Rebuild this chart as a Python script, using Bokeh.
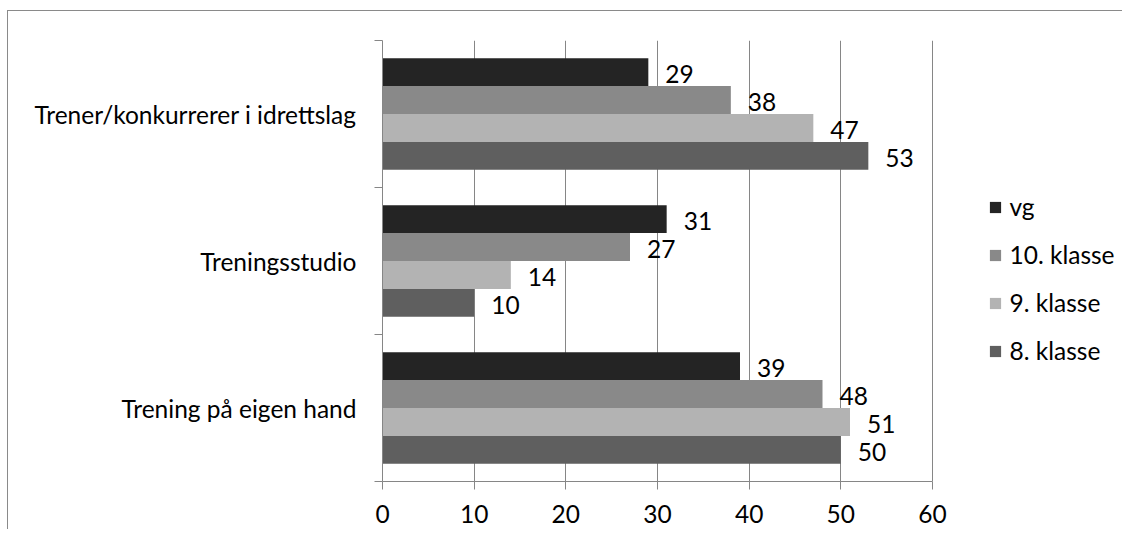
from bokeh.plotting import figure
from bokeh.models import Range1d, FixedTicker, Legend, LegendItem, ColumnDataSource
from bokeh.embed import file_html
from bokeh.resources import INLINE
from bokeh.core.properties import value

# categories listed top to bottom
categories = ["Trener/konkurrerer i idrettslag", "Treningsstudio", "Trening på eigen hand"]
series = ["vg", "10. klasse", "9. klasse", "8. klasse"]
vg = [29, 31, 39]
klasse10 = [38, 27, 48]
klasse9 = [47, 14, 51]
klasse8 = [53, 10, 50]
x_ticks = [0, 10, 20, 30, 40, 50, 60]

values = [vg, klasse10, klasse9, klasse8]
colors = ["#242424", "#898989", "#b3b3b3", "#5f5f5f"]
FONT = "Lato"
FS = "24.5px"
GRAY = "#868686"

n = len(categories)
bar_h = 0.19
x_lo, x_hi = x_ticks[0], x_ticks[-1]

# frame reaches past the value axis so the legend can sit inside it
FRAME_W = 740
AXIS_W = 550
x_end = x_lo + (x_hi - x_lo) * FRAME_W / AXIS_W

p = figure(frame_width=FRAME_W, frame_height=441,
           x_range=Range1d(x_lo, x_end), y_range=Range1d(0, n),
           output_backend="svg", toolbar_location=None,
           min_border_left=374, min_border_top=29, min_border_bottom=48, min_border_right=0,
           styles={"border-left": "1.5px solid #8a8a8a", "border-top": "1.5px solid #8a8a8a",
                   "margin-top": "10px", "margin-left": "6.5px"})
p.outline_line_color = None

renderers = []
for j, (name, vals, col) in enumerate(zip(series, values, colors)):
    ys = [n - i - 0.5 + (1.5 - j) * bar_h for i in range(n)]
    src = ColumnDataSource(dict(y=ys, right=vals, lbl=[str(v) for v in vals]))
    r = p.hbar(y="y", left=0, right="right", height=bar_h, source=src,
               fill_color=col, line_color=None)
    p.text(x="right", y="y", text="lbl", source=src, x_offset=17, y_offset=2,
           text_align="left", text_baseline="middle", text_font=value(FONT),
           text_font_size=FS, text_color="black")
    renderers.append((name, r))

# x axis
xa = p.xaxis[0]
xa.bounds = (x_lo, x_hi)
xa.ticker = FixedTicker(ticks=x_ticks)
xa.axis_line_color = GRAY
xa.major_tick_line_color = GRAY
xa.major_tick_out = 8
xa.major_tick_in = 0
xa.minor_tick_line_color = None
xa.major_label_text_font = FONT
xa.major_label_text_font_size = FS
xa.major_label_text_color = "black"
xa.major_label_standoff = 15

# y axis: labels at centers, ticks at category boundaries
ya = p.yaxis[0]
ya.ticker = FixedTicker(ticks=[i + 0.5 for i in range(n)], minor_ticks=list(range(n + 1)))
ya.major_label_overrides = {n - i - 0.5: c for i, c in enumerate(categories)}
ya.axis_line_color = GRAY
ya.major_tick_line_color = None
ya.major_tick_out = 0
ya.major_tick_in = 0
ya.minor_tick_line_color = GRAY
ya.minor_tick_out = 8
ya.minor_tick_in = 0
ya.major_label_text_font = FONT
ya.major_label_text_font_size = FS
ya.major_label_text_color = "black"
ya.major_label_standoff = 18

p.xgrid.ticker = FixedTicker(ticks=x_ticks)
p.xgrid.grid_line_color = GRAY
p.ygrid.grid_line_color = None

legend = Legend(items=[LegendItem(label=nm, renderers=[r]) for nm, r in renderers],
                location=(606, 116), orientation="vertical",
                padding=0, margin=0, border_line_color=None, background_fill_alpha=0,
                glyph_width=14, glyph_height=14, label_height=29, spacing=19,
                label_standoff=8, label_text_font=FONT, label_text_font_size=FS,
                label_text_color="black")
p.add_layout(legend, "center")

open("out.html", "w").write(file_html(p, INLINE))
